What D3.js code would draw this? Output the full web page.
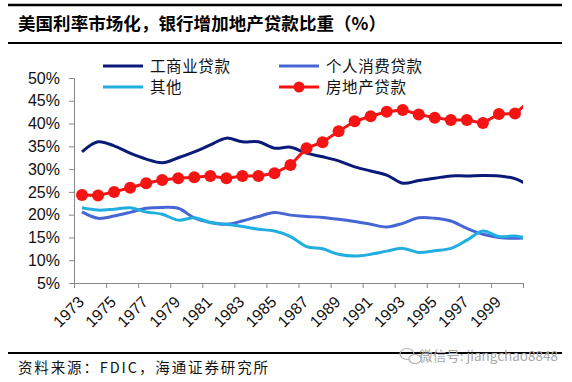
<!DOCTYPE html>
<html><head><meta charset="utf-8">
<script src="https://cdn.jsdelivr.net/npm/d3@7"></script>
<style>html,body{margin:0;padding:0;background:#fff;}svg{display:block;}</style>
</head><body>
<svg id="c" width="572" height="382"></svg>
<script>
const years = [1973,1974,1975,1976,1977,1978,1979,1980,1981,1982,1983,1984,1985,1986,1987,1988,1989,1990,1991,1992,1993,1994,1995,1996,1997,1998,1999,2000,2001];
const commercial = [33.8,36.0,35.1,33.5,32.2,31.4,32.5,33.8,35.3,36.8,36.0,36.0,34.6,34.8,33.5,32.7,31.8,30.5,29.6,28.7,26.9,27.5,28.0,28.5,28.5,28.6,28.5,27.9,26.1];
const consumer = [20.6,19.2,19.7,20.5,21.4,21.6,21.4,19.3,18.3,17.9,18.6,19.6,20.5,19.9,19.6,19.4,19.0,18.5,17.9,17.3,18.1,19.3,19.2,18.6,17.0,15.7,15.0,14.8,15.0];
const other = [21.5,21.0,21.2,21.5,20.6,20.1,18.8,19.3,18.3,17.9,17.4,16.8,16.4,15.2,13.0,12.5,11.3,10.9,11.3,12.0,12.6,11.7,12.1,12.6,14.4,16.4,15.2,15.3,14.7];
const realEstate = [24.3,24.2,25.0,25.9,26.9,27.6,28.0,28.2,28.5,28.0,28.5,28.5,29.1,30.9,34.6,35.9,38.3,40.5,41.6,42.6,43.0,42.0,41.3,40.8,40.8,40.1,42.1,42.2,45.2];
const yTicks = [5,10,15,20,25,30,35,40,45,50];
const xTickLabels = ["1973","1975","1977","1979","1981","1983","1985","1987","1989","1991","1993","1995","1997","1999"];
const seriesNames = ["工商业贷款","个人消费贷款","其他","房地产贷款"];
const seriesColors = ["#0a1a78","#4766d6","#22aee0","#f41414"];
const title = "美国利率市场化，银行增加地产贷款比重（%）";
const source = "资料来源：FDIC，海通证券研究所";
const watermark = "微信号: jiangchao8848";

const svg = d3.select("#c");
const L = 74, R = 523, T = 78, B = 283;
const x = d3.scaleLinear().domain([1972.5, 2000.5]).range([L, R]);
const y = d3.scaleLinear().domain([5, 50]).range([B, T]);
const cjk = "'Noto Sans CJK SC','Noto Sans',sans-serif";
const latin = "'Liberation Sans',Arial,sans-serif";

// header lines and title
svg.append("line").attr("x1",8).attr("x2",562).attr("y1",5).attr("y2",5).attr("stroke","#000").attr("stroke-width",2.5);
svg.append("line").attr("x1",8).attr("x2",562).attr("y1",43).attr("y2",43).attr("stroke","#000").attr("stroke-width",2);
svg.append("text").attr("x",18).attr("y",30).attr("font-family",cjk).attr("font-weight","bold")
  .attr("font-size",17.5).attr("fill","#000").attr("textLength",368).attr("lengthAdjust","spacing").text(title);

// footer
svg.append("line").attr("x1",8).attr("x2",562).attr("y1",353).attr("y2",353).attr("stroke","#000").attr("stroke-width",2);
svg.append("text").attr("x",18).attr("y",373).attr("font-family",cjk).attr("font-size",14.5).attr("fill","#111")
  .attr("textLength",250).attr("lengthAdjust","spacing").text(source);
const wm = svg.append("g").attr("fill","none").attr("stroke","#b0b0b0").attr("stroke-width",1.2);
wm.append("ellipse").attr("cx",407).attr("cy",354).attr("rx",7).attr("ry",5.5);
wm.append("ellipse").attr("cx",415).attr("cy",359).attr("rx",6).attr("ry",4.5).attr("fill","#fff");
svg.append("text").attr("x",558).attr("y",361).attr("text-anchor","end").attr("font-family",cjk).attr("font-size",13.5)
  .attr("fill","#a8a8a8").text(watermark);

// y axis
const yAxis = d3.axisLeft(y).tickValues(yTicks).tickSize(5).tickFormat(d => d + "%");
const gy = svg.append("g").attr("transform",`translate(${L},0)`).call(yAxis);
gy.select(".domain").attr("stroke","#888").attr("stroke-width",1);
gy.selectAll(".tick line").attr("stroke","#888");
gy.selectAll(".tick text").attr("font-family",latin).attr("font-size",16).attr("fill","#111").attr("x",-14);

// x axis
const xTickVals = d3.range(0, 15).map(i => 1972.5 + 2 * i);
const xAxis = d3.axisBottom(x).tickValues(xTickVals).tickSize(5).tickFormat("");
const gx = svg.append("g").attr("transform",`translate(0,${B})`).call(xAxis);
gx.select(".domain").attr("stroke","#888").attr("stroke-width",1);
gx.selectAll(".tick line").attr("stroke","#888");
svg.append("g").selectAll("text").data(xTickLabels).join("text")
  .attr("transform", d => `translate(${x(+d) + 3},${B + 20}) rotate(-45)`)
  .attr("text-anchor","end").attr("font-family",latin).attr("font-size",16).attr("fill","#111").text(d => d);

// clip
svg.append("clipPath").attr("id","plotclip").append("rect").attr("x",L).attr("y",T-20).attr("width",R-L).attr("height",B-T+40);
const plot = svg.append("g").attr("clip-path","url(#plotclip)");

const smooth = d3.line().x(d => x(d[0])).y(d => y(d[1])).curve(d3.curveCatmullRom.alpha(0.5));
const straight = d3.line().x(d => x(d[0])).y(d => y(d[1]));
const seriesData = [commercial, consumer, other, realEstate].map(arr => years.map((yr,i) => [yr, arr[i]]));

seriesData.slice(0,3).forEach((s,i) => {
  plot.append("path").attr("d", smooth(s)).attr("fill","none").attr("stroke",seriesColors[i]).attr("stroke-width",3).attr("stroke-linejoin","round");
});
plot.append("path").attr("d", straight(seriesData[3])).attr("fill","none").attr("stroke",seriesColors[3]).attr("stroke-width",3);
plot.selectAll("circle.re").data(seriesData[3]).join("circle").attr("class","re")
  .attr("cx", d => x(d[0])).attr("cy", d => y(d[1])).attr("r",6).attr("fill",seriesColors[3]);

// legend
const legendPos = [[103,66],[279,66],[103,87],[279,87]];
seriesNames.forEach((name,i) => {
  const [lx,ly] = legendPos[i];
  svg.append("line").attr("x1",lx).attr("x2",lx+40).attr("y1",ly).attr("y2",ly).attr("stroke",seriesColors[i]).attr("stroke-width",3);
  if (i === 3) svg.append("circle").attr("cx",lx+20).attr("cy",ly).attr("r",5.5).attr("fill",seriesColors[i]);
  svg.append("text").attr("x",lx+47).attr("y",ly+5.5).attr("font-family",cjk).attr("font-size",15.5).attr("fill","#111")
    .attr("letter-spacing", 0.6).text(name);
});
</script>
</body></html>
